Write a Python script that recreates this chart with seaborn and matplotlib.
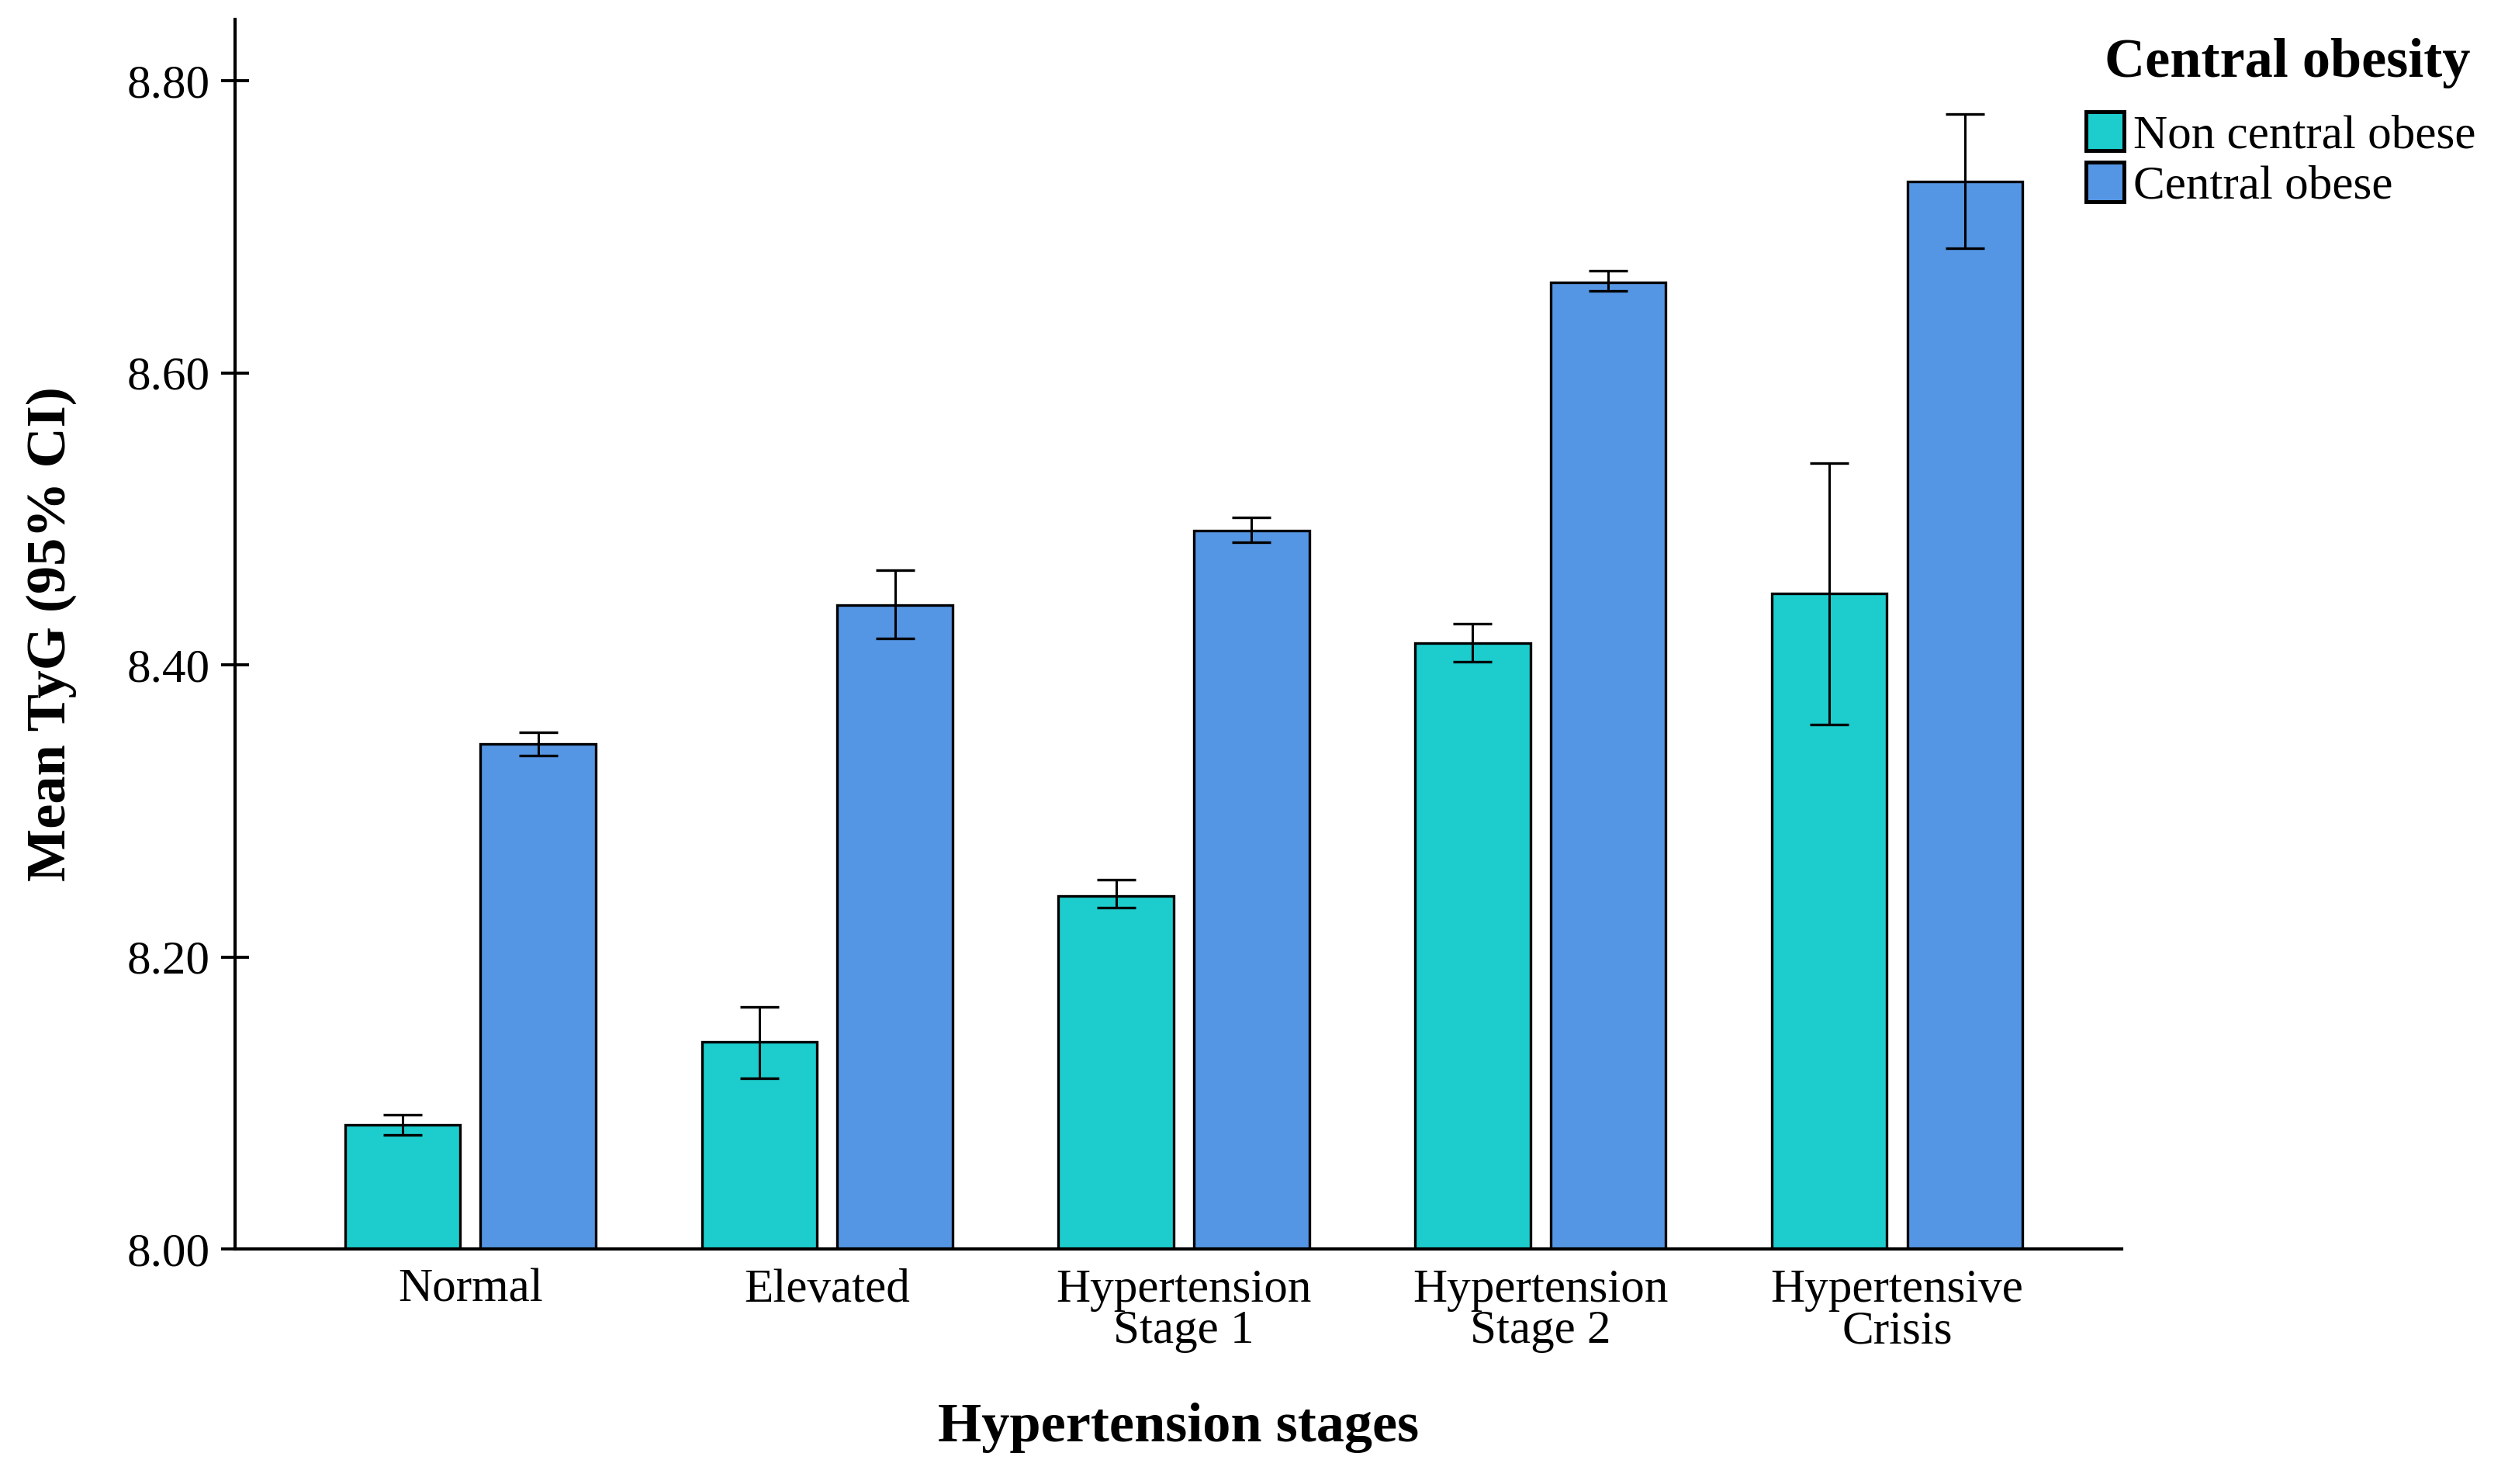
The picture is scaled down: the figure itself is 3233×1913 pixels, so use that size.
import pandas as pd
import numpy as np
import matplotlib.pyplot as plt
import seaborn as sns

# values
stages = ['Normal', 'Elevated', 'Hypertension\nStage 1', 'Hypertension\nStage 2', 'Hypertensive\nCrisis']
groups = ['Non central obese', 'Central obese']

mean_non = [8.085, 8.142, 8.242, 8.415, 8.449]
low_non = [8.078, 8.117, 8.234, 8.402, 8.359]
high_non = [8.092, 8.166, 8.253, 8.428, 8.538]

mean_cen = [8.346, 8.441, 8.492, 8.662, 8.731]
low_cen = [8.338, 8.418, 8.484, 8.656, 8.685]
high_cen = [8.354, 8.465, 8.501, 8.670, 8.777]

colors = ['#1dcdcd', '#5596e4']

df = pd.DataFrame({
    'stage': stages * 2,
    'group': [groups[0]] * 5 + [groups[1]] * 5,
    'mean': mean_non + mean_cen,
    'low': low_non + low_cen,
    'high': high_non + high_cen,
})

sns.set_style('white')
plt.rcParams['font.family'] = ['Liberation Serif', 'DejaVu Serif']
plt.rcParams['text.color'] = 'black'
plt.rcParams['axes.labelcolor'] = 'black'
plt.rcParams['xtick.color'] = 'black'
plt.rcParams['ytick.color'] = 'black'

fig = plt.figure(figsize=(16.165, 9.565), dpi=200)
ax = fig.add_axes([0.0937, 0.1583, 0.7523, 0.8287])

sns.barplot(data=df, x='stage', y='mean', hue='group', palette=colors,
            saturation=1, errorbar=None, width=0.76, gap=0.15,
            edgecolor='black', linewidth=1.2, ax=ax)

# error bars at bar centres
for cont, g in zip(ax.containers, groups):
    sub = df[df['group'] == g]
    xs = [b.get_x() + b.get_width() / 2 for b in cont]
    m = sub['mean'].values
    ax.errorbar(xs, m, yerr=[m - sub['low'].values, sub['high'].values - m],
                fmt='none', ecolor='black', elinewidth=1.1, capsize=9,
                capthick=1.2, zorder=5)

ax.set_ylim(8.0, 8.842)
ax.set_xlim(-0.66, 4.63)
ax.set_yticks([8.0, 8.2, 8.4, 8.6, 8.8])
ax.set_yticklabels(['%.2f' % v for v in [8.0, 8.2, 8.4, 8.6, 8.8]])

for t in ax.get_xticklabels():
    t.set_linespacing(0.95)
ax.tick_params(axis='x', length=0, pad=9, labelsize=22)
ax.tick_params(axis='y', direction='inout', length=13, width=1.4, pad=5, labelsize=22, left=True)

sns.despine(ax=ax)
for s in ['left', 'bottom']:
    ax.spines[s].set_linewidth(1.5)
    ax.spines[s].set_color('black')

ax.set_xlabel('Hypertension stages', fontsize=26, fontweight='bold')
ax.set_ylabel('Mean TyG (95% CI)', fontsize=26, fontweight='bold')
ax.xaxis.set_label_coords(0.5, -0.125)
ax.yaxis.set_label_coords(-0.084, 0.5)

h, l = ax.get_legend_handles_labels()
leg = ax.legend(h, l, loc='upper left', bbox_to_anchor=(0.981, 0.925),
                frameon=False, fontsize=22,
                handlelength=0.8, handleheight=0.9, handletextpad=0.2, labelspacing=0.1,
                borderpad=0, borderaxespad=0)
for p in leg.get_patches():
    p.set_linewidth(1.8)
ax.text(1.088, 0.964, 'Central obesity', transform=ax.transAxes, ha='center', va='center',
        fontsize=26, fontweight='bold')

plt.savefig('out.png', dpi=200)
